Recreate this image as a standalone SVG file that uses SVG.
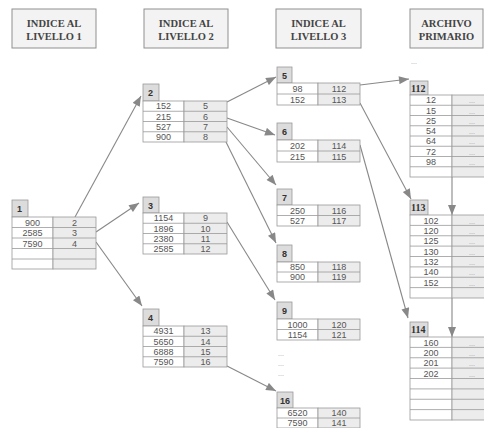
<svg xmlns="http://www.w3.org/2000/svg" width="484" height="428" viewBox="0 0 484 428">
<style>
.hdr{fill:#f3f3f3;stroke:#8f8f8f;stroke-width:1}
.ht{font-family:"Liberation Serif",serif;font-size:10.5px;font-weight:bold;fill:#444;text-anchor:middle}
.tab{fill:#dcdcdc;stroke:#999;stroke-width:0.8}
.tl{font-family:"Liberation Sans",sans-serif;font-size:9px;font-weight:bold;fill:#333}
.al{font-family:"Liberation Serif",serif;font-size:10px;font-weight:bold;fill:#333}
.lc{fill:#fff;stroke:#999;stroke-width:0.8}
.rc{fill:#ececec;stroke:#999;stroke-width:0.8}
.rl{stroke:#999;stroke-width:0.8}
.n{font-family:"Liberation Sans",sans-serif;font-size:9px;fill:#555;text-anchor:middle}
.d{font-family:"Liberation Sans",sans-serif;font-size:7px;fill:#999;text-anchor:middle}
.c{stroke:#888;stroke-width:1.1;fill:none;marker-end:url(#ah)}
</style>
<defs>
<marker id="ah" viewBox="0 0 10 8" refX="10" refY="4" markerWidth="11" markerHeight="8" markerUnits="userSpaceOnUse" orient="auto">
<path d="M0,0 L10,4 L0,8 z" fill="#888"/>
</marker>
</defs>
<rect width="484" height="428" fill="#fff"/>

<g id="headers">
<rect class="hdr" x="12" y="9" width="84" height="39"/>
<text class="ht" x="54" y="27">INDICE AL</text><text class="ht" x="54" y="40">LIVELLO 1</text>
<rect class="hdr" x="144" y="9" width="84" height="39"/>
<text class="ht" x="186" y="27">INDICE AL</text><text class="ht" x="186" y="40">LIVELLO 2</text>
<rect class="hdr" x="276" y="9" width="85" height="39"/>
<text class="ht" x="318.5" y="27">INDICE AL</text><text class="ht" x="318.5" y="40">LIVELLO 3</text>
<rect class="hdr" x="410" y="9" width="73" height="39"/>
<text class="ht" x="446.5" y="27">ARCHIVO</text><text class="ht" x="446.5" y="40">PRIMARIO</text>
</g>

<g id="connectors">
<line class="c" x1="75" y1="217" x2="141" y2="96"/>
<line class="c" x1="96" y1="232" x2="139" y2="203"/>
<line class="c" x1="96" y1="242" x2="142" y2="306"/>
<line class="c" x1="227" y1="102" x2="276" y2="77"/>
<line class="c" x1="227" y1="118" x2="275" y2="135"/>
<line class="c" x1="227" y1="127" x2="276" y2="185"/>
<line class="c" x1="226" y1="142" x2="276" y2="243"/>
<line class="c" x1="227" y1="222" x2="275" y2="300"/>
<line class="c" x1="227" y1="366" x2="276" y2="391"/>
<line class="c" x1="360" y1="85" x2="409" y2="79"/>
<line class="c" x1="360" y1="103" x2="411" y2="199"/>
<line class="c" x1="360" y1="145" x2="408" y2="318"/>
<line class="c" x1="452" y1="177" x2="452" y2="215"/>
<line class="c" x1="452" y1="298" x2="452" y2="337"/>
</g>

<g id="n1">
<rect class="tab" x="12" y="200" width="16" height="17"/><text class="tl" x="17" y="212">1</text>
<rect class="lc" x="12" y="217" width="41" height="52"/><rect class="rc" x="53" y="217" width="43" height="52"/>
<path class="rl" d="M12,227.5H96M12,238H96M12,248.5H96M12,259H96"/>
<text class="n" x="32.5" y="225.5">900</text><text class="n" x="74.5" y="225.5">2</text>
<text class="n" x="32.5" y="236">2585</text><text class="n" x="74.5" y="236">3</text>
<text class="n" x="32.5" y="246.5">7590</text><text class="n" x="74.5" y="246.5">4</text>
</g>

<g id="n2">
<rect class="tab" x="143" y="84" width="16" height="17"/><text class="tl" x="148" y="96">2</text>
<rect class="lc" x="143" y="101" width="41" height="41"/><rect class="rc" x="184" y="101" width="43" height="41"/>
<path class="rl" d="M143,111.25H227M143,121.5H227M143,131.75H227"/>
<text class="n" x="163.5" y="109.3">152</text><text class="n" x="205.5" y="109.3">5</text>
<text class="n" x="163.5" y="119.6">215</text><text class="n" x="205.5" y="119.6">6</text>
<text class="n" x="163.5" y="129.8">527</text><text class="n" x="205.5" y="129.8">7</text>
<text class="n" x="163.5" y="140.1">900</text><text class="n" x="205.5" y="140.1">8</text>
</g>

<g id="n3">
<rect class="tab" x="143" y="197" width="16" height="16"/><text class="tl" x="148" y="208.5">3</text>
<rect class="lc" x="143" y="213" width="41" height="41"/><rect class="rc" x="184" y="213" width="43" height="41"/>
<path class="rl" d="M143,223.25H227M143,233.5H227M143,243.75H227"/>
<text class="n" x="163.5" y="221.3">1154</text><text class="n" x="205.5" y="221.3">9</text>
<text class="n" x="163.5" y="231.6">1896</text><text class="n" x="205.5" y="231.6">10</text>
<text class="n" x="163.5" y="241.8">2380</text><text class="n" x="205.5" y="241.8">11</text>
<text class="n" x="163.5" y="252.1">2585</text><text class="n" x="205.5" y="252.1">12</text>
</g>

<g id="n4">
<rect class="tab" x="143" y="309" width="16" height="17"/><text class="tl" x="148" y="321">4</text>
<rect class="lc" x="143" y="326" width="41" height="41"/><rect class="rc" x="184" y="326" width="43" height="41"/>
<path class="rl" d="M143,336.25H227M143,346.5H227M143,356.75H227"/>
<text class="n" x="163.5" y="334.3">4931</text><text class="n" x="205.5" y="334.3">13</text>
<text class="n" x="163.5" y="344.6">5650</text><text class="n" x="205.5" y="344.6">14</text>
<text class="n" x="163.5" y="354.8">6888</text><text class="n" x="205.5" y="354.8">15</text>
<text class="n" x="163.5" y="365.1">7590</text><text class="n" x="205.5" y="365.1">16</text>
</g>

<g id="n5">
<rect class="tab" x="277" y="67" width="15" height="16"/><text class="tl" x="282" y="78.5">5</text>
<rect class="lc" x="277" y="83" width="41" height="22"/><rect class="rc" x="318" y="83" width="42" height="22"/>
<path class="rl" d="M277,94H360"/>
<text class="n" x="297.5" y="91.8">98</text><text class="n" x="339" y="91.8">112</text>
<text class="n" x="297.5" y="102.8">152</text><text class="n" x="339" y="102.8">113</text>
</g>

<g id="n6">
<rect class="tab" x="277" y="123" width="15" height="17"/><text class="tl" x="282" y="135">6</text>
<rect class="lc" x="277" y="140" width="41" height="22"/><rect class="rc" x="318" y="140" width="42" height="22"/>
<path class="rl" d="M277,151H360"/>
<text class="n" x="297.5" y="148.8">202</text><text class="n" x="339" y="148.8">114</text>
<text class="n" x="297.5" y="159.8">215</text><text class="n" x="339" y="159.8">115</text>
</g>

<g id="n7">
<rect class="tab" x="277" y="189" width="15" height="16"/><text class="tl" x="282" y="200.5">7</text>
<rect class="lc" x="277" y="205" width="41" height="21"/><rect class="rc" x="318" y="205" width="42" height="21"/>
<path class="rl" d="M277,215.5H360"/>
<text class="n" x="297.5" y="213.5">250</text><text class="n" x="339" y="213.5">116</text>
<text class="n" x="297.5" y="224">527</text><text class="n" x="339" y="224">117</text>
</g>

<g id="n8">
<rect class="tab" x="277" y="245" width="15" height="17"/><text class="tl" x="282" y="257">8</text>
<rect class="lc" x="277" y="262" width="41" height="20"/><rect class="rc" x="318" y="262" width="42" height="20"/>
<path class="rl" d="M277,272H360"/>
<text class="n" x="297.5" y="270.3">850</text><text class="n" x="339" y="270.3">118</text>
<text class="n" x="297.5" y="280.3">900</text><text class="n" x="339" y="280.3">119</text>
</g>

<g id="n9">
<rect class="tab" x="277" y="302" width="15" height="17"/><text class="tl" x="282" y="314">9</text>
<rect class="lc" x="277" y="319" width="41" height="21"/><rect class="rc" x="318" y="319" width="42" height="21"/>
<path class="rl" d="M277,329.5H360"/>
<text class="n" x="297.5" y="327.5">1000</text><text class="n" x="339" y="327.5">120</text>
<text class="n" x="297.5" y="338">1154</text><text class="n" x="339" y="338">121</text>
</g>

<g id="gap3">
<text class="d" x="281" y="356">...</text>
<text class="d" x="281" y="366">...</text>
<text class="d" x="281" y="376">...</text>
</g>

<g id="n16">
<rect class="tab" x="277" y="392" width="16" height="16"/><text class="tl" x="280" y="403.5">16</text>
<rect class="lc" x="277" y="408" width="41" height="20"/><rect class="rc" x="318" y="408" width="42" height="20"/>
<path class="rl" d="M277,418H360"/>
<text class="n" x="297.5" y="416.3">6520</text><text class="n" x="339" y="416.3">140</text>
<text class="n" x="297.5" y="426.3">7590</text><text class="n" x="339" y="426.3">141</text>
</g>

<text class="d" x="414" y="64">...</text>

<g id="p112">
<rect class="tab" x="410" y="81" width="18" height="14"/><text class="al" x="411" y="91.5">112</text>
<rect class="lc" x="410" y="95" width="42" height="82"/><rect class="rc" x="452" y="95" width="40" height="82"/>
<path class="rl" d="M410,105.25H492M410,115.5H492M410,125.75H492M410,136H492M410,146.25H492M410,156.5H492M410,166.75H492"/>
<text class="n" x="431" y="103.4">12</text><text class="d" x="472" y="103.4">...</text>
<text class="n" x="431" y="113.7">15</text><text class="d" x="472" y="113.7">...</text>
<text class="n" x="431" y="123.9">25</text><text class="d" x="472" y="123.9">...</text>
<text class="n" x="431" y="134.2">54</text><text class="d" x="472" y="134.2">...</text>
<text class="n" x="431" y="144.4">64</text><text class="d" x="472" y="144.4">...</text>
<text class="n" x="431" y="154.7">72</text><text class="d" x="472" y="154.7">...</text>
<text class="n" x="431" y="164.9">98</text><text class="d" x="472" y="164.9">...</text>
</g>

<g id="p113">
<rect class="tab" x="410" y="200" width="18" height="15"/><text class="al" x="411" y="211">113</text>
<rect class="lc" x="410" y="215" width="42" height="83"/><rect class="rc" x="452" y="215" width="40" height="83"/>
<path class="rl" d="M410,225.4H492M410,235.75H492M410,246.1H492M410,256.5H492M410,266.9H492M410,277.25H492M410,287.6H492"/>
<text class="n" x="431" y="223.5">102</text><text class="d" x="472" y="223.5">...</text>
<text class="n" x="431" y="233.9">120</text><text class="d" x="472" y="233.9">...</text>
<text class="n" x="431" y="244.3">125</text><text class="d" x="472" y="244.3">...</text>
<text class="n" x="431" y="254.7">130</text><text class="d" x="472" y="254.7">...</text>
<text class="n" x="431" y="265.1">132</text><text class="d" x="472" y="265.1">...</text>
<text class="n" x="431" y="275.4">140</text><text class="d" x="472" y="275.4">...</text>
<text class="n" x="431" y="285.8">152</text><text class="d" x="472" y="285.8">...</text>
</g>

<g id="p114">
<rect class="tab" x="410" y="322" width="18" height="15"/><text class="al" x="411" y="333">114</text>
<rect class="lc" x="410" y="337" width="42" height="83"/><rect class="rc" x="452" y="337" width="40" height="83"/>
<path class="rl" d="M410,347.4H492M410,357.75H492M410,368.1H492M410,378.5H492M410,388.9H492M410,399.25H492M410,409.6H492"/>
<text class="n" x="431" y="345.5">160</text><text class="d" x="472" y="345.5">...</text>
<text class="n" x="431" y="355.9">200</text><text class="d" x="472" y="355.9">...</text>
<text class="n" x="431" y="366.3">201</text><text class="d" x="472" y="366.3">...</text>
<text class="n" x="431" y="376.7">202</text><text class="d" x="472" y="376.7">...</text>
</g>
</svg>
